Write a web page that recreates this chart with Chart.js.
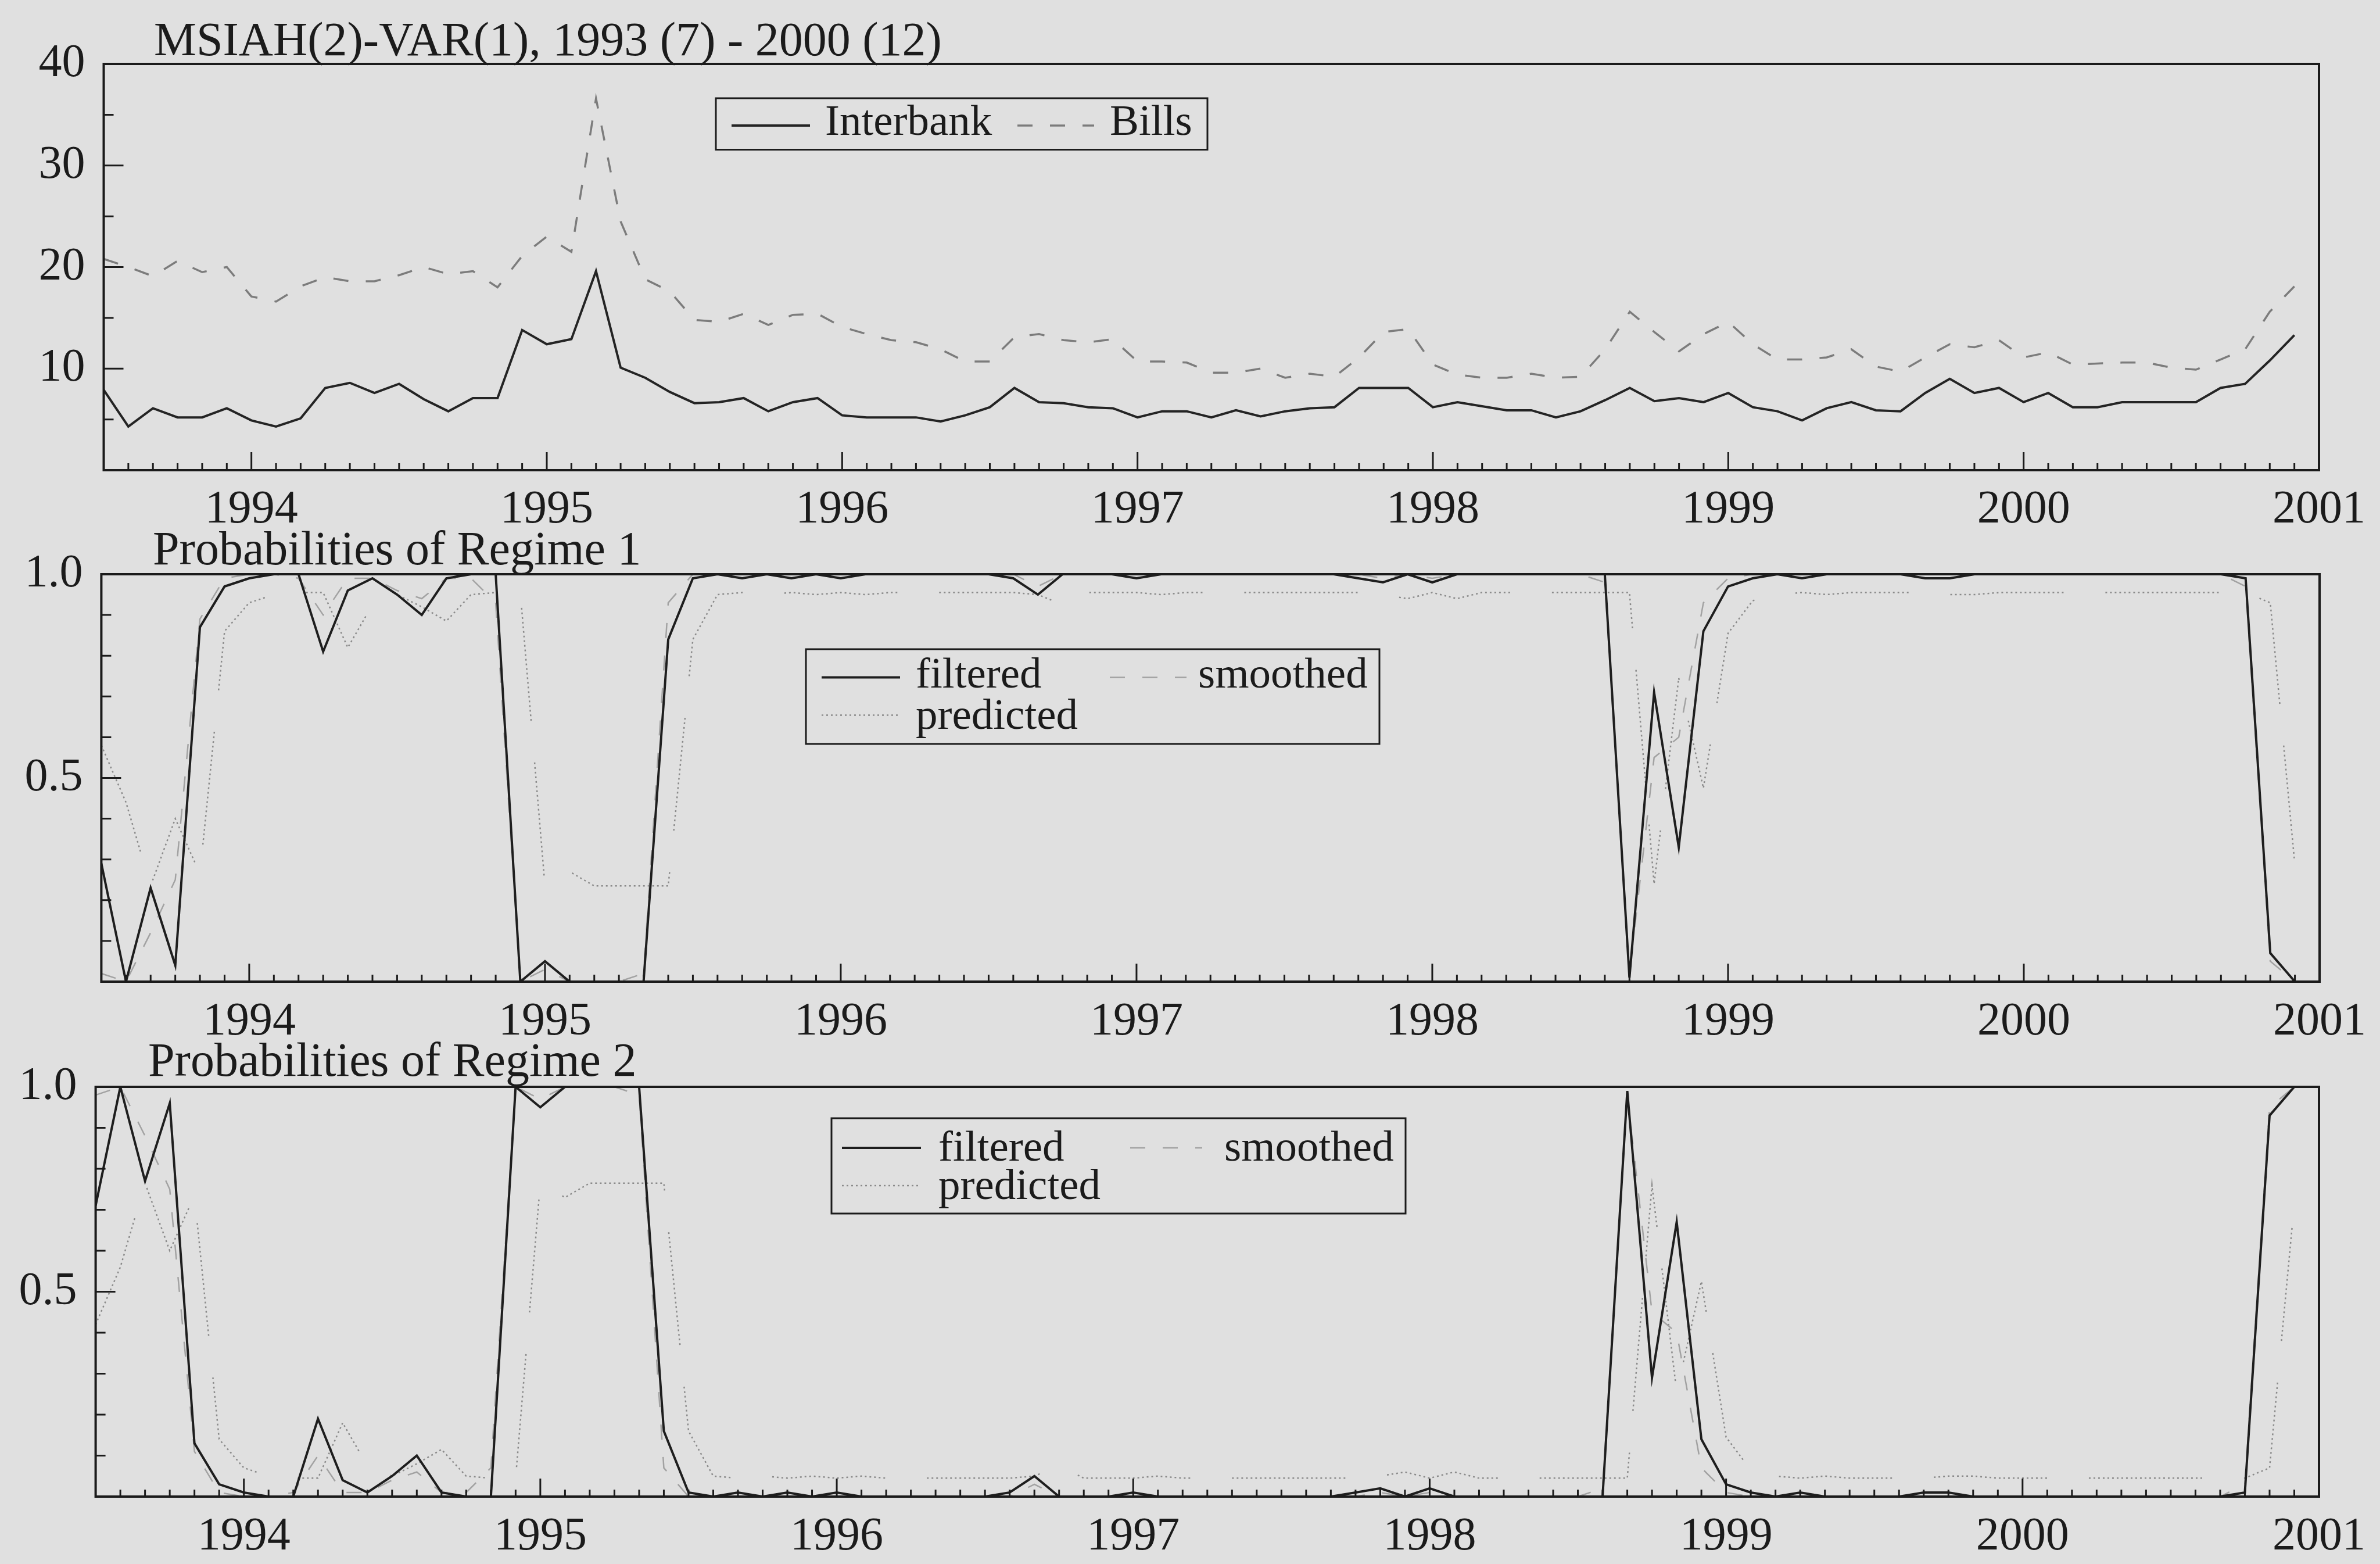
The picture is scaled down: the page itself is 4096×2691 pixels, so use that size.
<!DOCTYPE html>
<html>
<head>
<meta charset="utf-8">
<script src="https://cdn.jsdelivr.net/npm/chart.js@4.4.1/dist/chart.umd.min.js"></script>
<style>
  html, body { margin: 0; padding: 0; background: #e0e0e0; }
  body { width: 4096px; height: 2691px; position: relative; overflow: hidden; }
  canvas { position: absolute; left: 0; top: 0; }
</style>
</head>
<body>
<canvas id="c1" width="4096" height="2691"></canvas>
<canvas id="c2" width="4096" height="2691"></canvas>
<canvas id="c3" width="4096" height="2691"></canvas>
<script>
// monthly observations 1993 (7) - 2000 (12)
const firstYear = 1993, firstMonth = 7, nObs = 90;
const obsDates = Array.from({ length: nObs }, (_, i) => firstYear + (firstMonth - 1 + i) / 12);
const yearTicks = [1994, 1995, 1996, 1997, 1998, 1999, 2000, 2001];

const rateTicks = [10, 20, 30, 40];
const probTicks = [0.5, 1.0];

// interest rates (%)
const interbank = [7.9,4.3,6.1,5.2,5.2,6.1,4.9,4.3,5.1,8.1, 8.6,7.6,8.5,7.0,5.8,7.1,7.1,13.8,12.4,12.9,
  19.6,10.1,9.1,7.7,6.6,6.7,7.1,5.8,6.7,7.1, 5.4,5.2,5.2,5.2,4.8,5.4,6.2,8.1,6.7,6.6,
  6.2,6.1,5.2,5.8,5.8,5.2,5.9,5.3,5.8,6.1, 6.2,8.1,8.1,8.1,6.2,6.7,6.3,5.9,5.9,5.2,
  5.8,6.9,8.1,6.8,7.1,6.7,7.6,6.2,5.8,4.9, 6.1,6.7,5.9,5.8,7.6,9.0,7.6,8.1,6.7,7.6,
  6.2,6.2,6.7,6.7,6.7,6.7,8.1,8.5,10.8,13.3];
const bills = [20.8,20.0,19.1,20.6,19.5,20.0,17.1,16.6,18.1,19.0, 18.6,18.6,19.2,20.0,19.3,19.6,18.0,21.1,23.0,21.5,
  36.6,24.5,18.8,17.6,14.8,14.6,15.4,14.3,15.3,15.4, 14.1,13.4,12.8,12.6,11.9,10.7,10.7,13.1,13.4,12.8,
  12.6,12.9,10.7,10.7,10.6,9.6,9.6,10.0,9.1,9.5, 9.2,11.1,13.6,13.9,10.4,9.4,9.1,9.1,9.5,9.1,
  9.2,11.9,15.6,13.6,11.7,13.4,14.6,12.4,10.9,10.9, 11.1,11.9,10.2,9.7,11.1,12.4,12.1,12.8,11.1,11.6,
  10.4,10.5,10.6,10.6,10.1,9.9,10.9,11.9,15.6,18.1];

// regime 1 probabilities
const filtered1 = [0.29,0.0,0.23,0.04,0.87,0.97,0.99,1.0,1.0,0.81, 0.96,0.99,0.95,0.90,0.99,1.0,1.0,0.0,0.05,0.0,
  0.0,0.0,0.0,0.84,0.99,1.0,0.99,1.0,0.99,1.0, 0.99,1.0,1.0,1.0,1.0,1.0,1.0,0.99,0.95,1.0,
  1.0,1.0,0.99,1.0,1.0,1.0,1.0,1.0,1.0,1.0, 1.0,0.99,0.98,1.0,0.98,1.0,1.0,1.0,1.0,1.0,
  1.0,1.0,0.01,0.71,0.33,0.86,0.97,0.99,1.0,0.99, 1.0,1.0,1.0,1.0,0.99,0.99,1.0,1.0,1.0,1.0,
  1.0,1.0,1.0,1.0,1.0,1.0,1.0,0.99,0.07,0.0];
const smoothed1 = [0.02,0.0,0.12,0.25,0.89,0.99,1.0,1.0,0.99,0.90, 0.99,0.99,0.96,0.94,0.99,0.99,0.93,0.0,0.03,0.0,
  0.0,0.0,0.02,0.93,1.0,1.0,1.0,1.0,1.0,1.0, 1.0,1.0,1.0,1.0,1.0,1.0,1.0,1.0,0.97,1.0,
  1.0,1.0,1.0,1.0,1.0,1.0,1.0,1.0,1.0,1.0, 1.0,1.0,0.99,1.0,0.99,1.0,1.0,1.0,1.0,1.0,
  1.0,0.98,0.02,0.55,0.60,0.93,0.99,1.0,1.0,1.0, 1.0,1.0,1.0,1.0,1.0,1.0,1.0,1.0,1.0,1.0,
  1.0,1.0,1.0,1.0,1.0,1.0,1.0,0.97,0.05,0.0];
const predicted1 = [0.58,0.44,0.235,0.40,0.265,0.86,0.93,0.95,0.955,0.955, 0.82,0.925,0.95,0.92,0.885,0.95,0.955,0.955,0.235,0.27,
  0.235,0.235,0.235,0.235,0.84,0.95,0.955,0.95,0.955,0.95, 0.955,0.95,0.955,0.955,0.955,0.955,0.955,0.955,0.95,0.925,
  0.955,0.955,0.955,0.95,0.955,0.955,0.955,0.955,0.955,0.955, 0.955,0.955,0.95,0.94,0.955,0.94,0.955,0.955,0.955,0.955,
  0.955,0.955,0.955,0.24,0.745,0.475,0.855,0.935,0.95,0.955, 0.95,0.955,0.955,0.955,0.955,0.95,0.95,0.955,0.955,0.955,
  0.955,0.955,0.955,0.955,0.955,0.955,0.955,0.955,0.93,0.285];

// regime 2 probabilities
const filtered2 = [0.71,1.0,0.77,0.96,0.13,0.03,0.01,0.0,0.0,0.19, 0.04,0.01,0.05,0.10,0.01,0.0,0.0,1.0,0.95,1.0,
  1.0,1.0,1.0,0.16,0.01,0.0,0.01,0.0,0.01,0.0, 0.01,0.0,0.0,0.0,0.0,0.0,0.0,0.01,0.05,0.0,
  0.0,0.0,0.01,0.0,0.0,0.0,0.0,0.0,0.0,0.0, 0.0,0.01,0.02,0.0,0.02,0.0,0.0,0.0,0.0,0.0,
  0.0,0.0,0.99,0.29,0.67,0.14,0.03,0.01,0.0,0.01, 0.0,0.0,0.0,0.0,0.01,0.01,0.0,0.0,0.0,0.0,
  0.0,0.0,0.0,0.0,0.0,0.0,0.0,0.01,0.93,1.0];
const smoothed2 = [0.98,1.0,0.88,0.75,0.11,0.01,0.0,0.0,0.01,0.10, 0.01,0.01,0.04,0.06,0.01,0.01,0.07,1.0,0.97,1.0,
  1.0,1.0,0.98,0.07,0.0,0.0,0.0,0.0,0.0,0.0, 0.0,0.0,0.0,0.0,0.0,0.0,0.0,0.0,0.03,0.0,
  0.0,0.0,0.0,0.0,0.0,0.0,0.0,0.0,0.0,0.0, 0.0,0.0,0.01,0.0,0.01,0.0,0.0,0.0,0.0,0.0,
  0.0,0.02,0.98,0.45,0.40,0.07,0.01,0.0,0.0,0.0, 0.0,0.0,0.0,0.0,0.0,0.0,0.0,0.0,0.0,0.0,
  0.0,0.0,0.0,0.0,0.0,0.0,0.0,0.03,0.95,1.0];
const predicted2 = [0.42,0.56,0.765,0.60,0.735,0.14,0.07,0.05,0.045,0.045, 0.18,0.075,0.05,0.08,0.115,0.05,0.045,0.045,0.765,0.73,
  0.765,0.765,0.765,0.765,0.16,0.05,0.045,0.05,0.045,0.05, 0.045,0.05,0.045,0.045,0.045,0.045,0.045,0.045,0.05,0.075,
  0.045,0.045,0.045,0.05,0.045,0.045,0.045,0.045,0.045,0.045, 0.045,0.045,0.05,0.06,0.045,0.06,0.045,0.045,0.045,0.045,
  0.045,0.045,0.045,0.76,0.255,0.525,0.145,0.065,0.05,0.045, 0.05,0.045,0.045,0.045,0.045,0.05,0.05,0.045,0.045,0.045,
  0.045,0.045,0.045,0.045,0.045,0.045,0.045,0.045,0.07,0.715];

const serif = "'Liberation Serif', 'Times New Roman', serif";
const ink = '#1b1b1b';

// dotted runs with a gap, like the GiveWin "predicted" line
const predDash = [];
for (let k = 0; k < 24; k++) predDash.push(3, 5);
predDash.push(3, 72);

const pts = arr => arr.map((v, i) => ({ x: obsDates[i], y: v }));

function probSets(f, s, p) {
  return [
    { label: 'filtered', data: pts(f), borderColor: '#1e1e1e', borderWidth: 4 },
    { label: 'smoothed', data: pts(s), borderColor: '#a2a2a2', borderWidth: 2.5, borderDash: [26, 30] },
    { label: 'predicted', data: pts(p), borderColor: '#8a8a8a', borderWidth: 2.5, borderDash: predDash }
  ];
}

const panels = [
  {
    id: 'c1', left: 178.5, right: 3991, top: 110, bottom: 809, yMax: 40,
    yTicks: rateTicks, yMajor: [10, 20, 30], yMinor: [5, 15, 25, 35], fmt: v => String(v), xPad: 21,
    title: 'MSIAH(2)-VAR(1), 1993 (7) - 2000 (12)', titleX: 265, titleY: 95,
    datasets: [
      { label: 'Interbank', data: pts(interbank), borderColor: '#242424', borderWidth: 4 },
      { label: 'Bills', data: pts(bills), borderColor: '#7c7c7c', borderWidth: 3.5, borderDash: [26, 30] }
    ],
    legend: { box: [1232, 169, 2078, 257.5], items: [
      { x1: 1259, x2: 1394, y: 216, tx: 1420, ty: 231.5 },
      { x1: 1751, x2: 1883, y: 216, tx: 1910, ty: 231.5 }
    ] }
  },
  {
    id: 'c2', left: 174.4, right: 3992, top: 988, bottom: 1689, yMax: 1,
    yTicks: probTicks, yMajor: [0.5], yMinor: [0.1, 0.2, 0.3, 0.4, 0.6, 0.7, 0.8, 0.9], fmt: v => v.toFixed(1), xPad: 22,
    title: 'Probabilities of Regime 1', titleX: 263, titleY: 971,
    datasets: probSets(filtered1, smoothed1, predicted1),
    legend: { box: [1387, 1117, 2374, 1280], items: [
      { x1: 1414, x2: 1549, y: 1165.5, tx: 1576, ty: 1182.6 },
      { x1: 1910, x2: 2042, y: 1165.5, tx: 2062, ty: 1182.6 },
      { x1: 1414, x2: 1549, y: 1230.6, tx: 1576, ty: 1253.5 }
    ] }
  },
  {
    id: 'c3', left: 164.6, right: 3991, top: 1870, bottom: 2575, yMax: 1,
    yTicks: probTicks, yMajor: [0.5], yMinor: [0.1, 0.2, 0.3, 0.4, 0.6, 0.7, 0.8, 0.9], fmt: v => v.toFixed(1), xPad: 22,
    title: 'Probabilities of Regime 2', titleX: 255, titleY: 1851,
    datasets: probSets(filtered2, smoothed2, predicted2),
    legend: { box: [1431, 1924, 2419, 2088], items: [
      { x1: 1449, x2: 1585, y: 1975, tx: 1615, ty: 1997 },
      { x1: 1945, x2: 2069, y: 1975, tx: 2107, ty: 1997 },
      { x1: 1449, x2: 1585, y: 2040, tx: 1615, ty: 2063 }
    ] }
  }
];

// frame, inward tick marks, panel title and boxed legend
const givePlugin = {
  id: 'give',
  afterDraw(chart, args, o) {
    const { ctx, chartArea: a, scales: { x, y } } = chart;
    ctx.save();
    ctx.strokeStyle = ink;
    ctx.lineWidth = 4;
    ctx.strokeRect(a.left, a.top, a.right - a.left, a.bottom - a.top);

    ctx.lineWidth = 3;
    ctx.beginPath();
    for (let k = 1; x.min + k / 12 < x.max - 1e-6; k++) {
      const v = x.min + k / 12;
      const px = x.getPixelForValue(v);
      const len = Math.abs(v - Math.round(v)) < 1e-6 ? 31 : 12;
      ctx.moveTo(px, a.bottom);
      ctx.lineTo(px, a.bottom - len);
    }
    o.yMajor.forEach(v => { const py = y.getPixelForValue(v); ctx.moveTo(a.left, py); ctx.lineTo(a.left + 34, py); });
    o.yMinor.forEach(v => { const py = y.getPixelForValue(v); ctx.moveTo(a.left, py); ctx.lineTo(a.left + 17, py); });
    ctx.stroke();

    ctx.fillStyle = ink;
    ctx.textBaseline = 'alphabetic';
    ctx.textAlign = 'left';
    ctx.font = '82px ' + serif;
    ctx.fillText(o.title, o.titleX, o.titleY);

    const L = o.legend;
    const [bx1, by1, bx2, by2] = L.box;
    ctx.fillStyle = '#e0e0e0';
    ctx.fillRect(bx1, by1, bx2 - bx1, by2 - by1);
    ctx.lineWidth = 3;
    ctx.strokeRect(bx1, by1, bx2 - bx1, by2 - by1);
    ctx.font = '75px ' + serif;
    L.items.forEach((it, i) => {
      const ds = chart.data.datasets[i];
      ctx.save();
      ctx.strokeStyle = ds.borderColor;
      ctx.lineWidth = ds.borderWidth;
      ctx.setLineDash(ds.borderDash ? (ds.borderDash.length > 4 ? [3, 5] : ds.borderDash) : []);
      ctx.beginPath();
      ctx.moveTo(it.x1, it.y);
      ctx.lineTo(it.x2, it.y);
      ctx.stroke();
      ctx.restore();
      ctx.fillStyle = ink;
      ctx.fillText(ds.label, it.tx, it.ty);
    });
    ctx.restore();
  }
};

panels.forEach(p => {
  new Chart(document.getElementById(p.id), {
    type: 'line',
    data: { datasets: p.datasets },
    plugins: [givePlugin],
    options: {
      responsive: false,
      animation: false,
      devicePixelRatio: 1,
      layout: { padding: { left: p.left - 150, right: 4096 - p.right, top: p.top, bottom: 2691 - p.bottom - 130 } },
      elements: { point: { radius: 0 }, line: { tension: 0, fill: false, borderCapStyle: 'butt', borderJoinStyle: 'miter' } },
      plugins: { legend: { display: false }, tooltip: { enabled: false }, title: { display: false }, give: p },
      scales: {
        x: {
          type: 'linear', min: 1993.5, max: 2001,
          grid: { display: false, drawTicks: false }, border: { display: false },
          afterBuildTicks: s => { s.ticks = yearTicks.map(v => ({ value: v })); },
          afterFit: s => { s.height = 130; },
          ticks: { padding: p.xPad, maxRotation: 0, autoSkip: false, color: ink,
            font: { family: serif, size: 80, lineHeight: 1.2 }, callback: v => String(v) }
        },
        y: {
          type: 'linear', min: 0, max: p.yMax,
          grid: { display: false, drawTicks: false }, border: { display: false },
          afterBuildTicks: s => { s.ticks = p.yTicks.map(v => ({ value: v })); },
          afterFit: s => { s.width = 150; },
          ticks: { padding: 32, color: ink, font: { family: serif, size: 80, lineHeight: 1.2 }, callback: v => p.fmt(v) }
        }
      }
    }
  });
});
</script>
</body>
</html>
